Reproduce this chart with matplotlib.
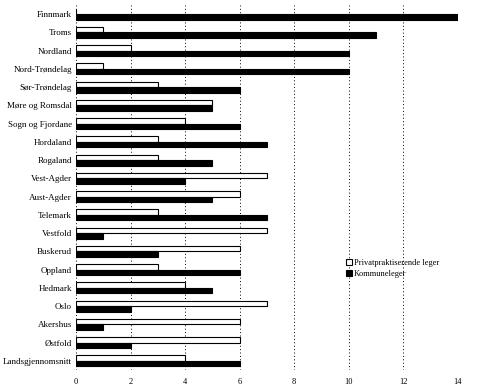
import numpy as np
import matplotlib.pyplot as plt

plt.rcParams['font.family'] = ['Liberation Serif', 'DejaVu Serif']

fylker = ['Finnmark', 'Troms', 'Nordland', 'Nord-Trøndelag', 'Sør-Trøndelag',
          'Møre og Romsdal', 'Sogn og Fjordane', 'Hordaland', 'Rogaland',
          'Vest-Agder', 'Aust-Agder', 'Telemark', 'Vestfold', 'Buskerud',
          'Oppland', 'Hedmark', 'Oslo', 'Akershus', 'Østfold',
          'Landsgjennomsnitt']
privat = [0, 1, 2, 1, 3, 5, 4, 3, 3, 7, 6, 3, 7, 6, 3, 4, 7, 6, 6, 4]
kommune = [14, 11, 10, 10, 6, 5, 6, 7, 5, 4, 5, 7, 1, 3, 6, 5, 2, 1, 2, 6]

fig = plt.figure(figsize=(4.81, 3.87), dpi=100)
ax = fig.add_axes([0.158, 0.044, 0.794, 0.943])

y = np.arange(len(fylker))
h = 0.3
ax.barh(y - h / 2, privat, height=h, color='white', edgecolor='black',
        linewidth=0.8, label='Privatpraktiserende leger', zorder=3)
ax.barh(y + h / 2, kommune, height=h, color='black', edgecolor='black',
        linewidth=0.8, label='Kommuneleger', zorder=3)

ax.set_xlim(0, 14)
ax.set_ylim(len(fylker) - 0.5, -0.5)
ax.set_xticks(np.arange(0, 15, 2))
ax.set_yticks(y)
ax.set_yticklabels(fylker, fontsize=6.5)
ax.tick_params(axis='x', labelsize=6, length=0, pad=6)
ax.tick_params(axis='y', length=0, pad=3)
ax.xaxis.grid(True, linestyle=(0, (1, 2.5)), color='black', linewidth=0.7)
for s in ax.spines.values():
    s.set_visible(False)

ax.legend(loc='upper left', bbox_to_anchor=(0.697, 0.315), frameon=False,
          fontsize=6, handlelength=0.7, handleheight=0.7, handletextpad=0.2,
          labelspacing=0.3, borderpad=0)

fig.savefig('out.png', dpi=100)
